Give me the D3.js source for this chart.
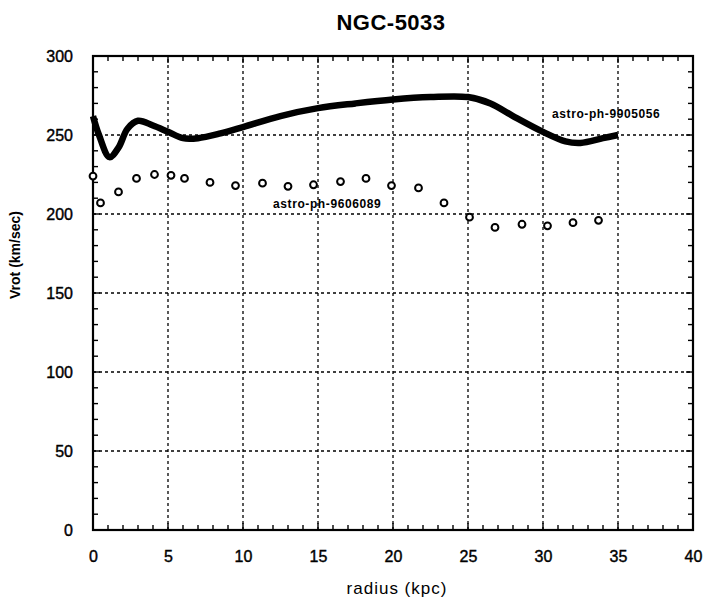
<!DOCTYPE html>
<html>
<head>
<meta charset="utf-8">
<script src="https://cdn.jsdelivr.net/npm/d3@7"></script>
<style>
  body { margin: 0; background: #fff; }
  svg { display: block; font-family: "Liberation Sans", Arial, sans-serif; }
</style>
</head>
<body>
<svg id="chart" width="704" height="603"></svg>
<script>
// 曲線データ (astro-ph-9905056)
var curveR = [0, 0.4, 1.1, 1.7, 2.3, 3.0, 4.0, 5.0, 6.0, 7.0, 8.5, 10, 12.5, 15, 17.5, 20, 22.5, 25, 26.5, 28, 30, 31.5, 32.5, 34, 35];
var curveV = [262, 250, 236, 242, 254, 259, 256, 252, 248, 248, 251, 255, 262, 267, 270, 272.5, 274, 274, 270, 262, 252, 246, 245, 248, 250];

// 点データ (astro-ph-9606089)
var pointR = [0, 0.5, 1.7, 2.9, 4.1, 5.2, 6.1, 7.8, 9.5, 11.3, 13.0, 14.7, 16.5, 18.2, 19.9, 21.7, 23.4, 25.1, 26.8, 28.6, 30.3, 32.0, 33.7];
var pointV = [224, 207, 214, 222.5, 225, 224.5, 222.5, 220, 218, 219.5, 217.5, 218.5, 220.5, 222.5, 218, 216.5, 207, 198, 191.5, 193.5, 192.5, 194.5, 196];

var xTicks = [0, 5, 10, 15, 20, 25, 30, 35, 40];
var yTicks = [0, 50, 100, 150, 200, 250, 300];

var margin = { left: 93, right: 11, top: 56, bottom: 73 };
var width = 704, height = 603;

var svg = d3.select("#chart");

var x = d3.scaleLinear().domain([0, 40]).range([margin.left, width - margin.right]);
var y = d3.scaleLinear().domain([0, 300]).range([height - margin.bottom, margin.top]);

var x0 = x(0), x1 = x(40), y0 = y(0), y1 = y(300);

// グリッド
svg.append("g").selectAll("line.gx")
  .data(xTicks.slice(1, -1)).enter().append("line")
  .attr("x1", d => x(d)).attr("x2", d => x(d))
  .attr("y1", y0).attr("y2", y1)
  .attr("stroke", "#000").attr("stroke-width", 1.3)
  .attr("stroke-dasharray", "3,3");
svg.append("g").selectAll("line.gy")
  .data(yTicks.slice(1, -1)).enter().append("line")
  .attr("x1", x0).attr("x2", x1)
  .attr("y1", d => y(d)).attr("y2", d => y(d))
  .attr("stroke", "#000").attr("stroke-width", 1.3)
  .attr("stroke-dasharray", "3,3");

// 内向きの目盛 (四辺)
var xMinor = d3.range(0, 41, 1);
var yMinor = d3.range(0, 301, 10);
var tk = svg.append("g").attr("stroke", "#000").attr("stroke-width", 1.4);
xMinor.forEach(function (d) {
  var len = d % 5 === 0 ? 7 : 5;
  tk.append("line").attr("x1", x(d)).attr("x2", x(d)).attr("y1", y0).attr("y2", y0 - len);
  tk.append("line").attr("x1", x(d)).attr("x2", x(d)).attr("y1", y1).attr("y2", y1 + len);
});
yMinor.forEach(function (d) {
  var len = d % 50 === 0 ? 7 : 5;
  tk.append("line").attr("x1", x0).attr("x2", x0 + len).attr("y1", y(d)).attr("y2", y(d));
  tk.append("line").attr("x1", x1).attr("x2", x1 - len).attr("y1", y(d)).attr("y2", y(d));
});

// 枠
svg.append("rect")
  .attr("x", x0).attr("y", y1)
  .attr("width", x1 - x0).attr("height", y0 - y1)
  .attr("fill", "none").attr("stroke", "#000").attr("stroke-width", 2.2);

// 軸ラベル
var xAxis = d3.axisBottom(x).tickValues(xTicks).tickSize(0).tickPadding(21);
svg.append("g").attr("transform", `translate(0,${y0})`).call(xAxis)
  .call(g => g.select(".domain").remove())
  .selectAll("text").attr("font-size", 16).attr("fill", "#000")
  .attr("stroke", "#000").attr("stroke-width", 0.4)
  .attr("font-family", "Liberation Sans, Arial, sans-serif");

var yAxis = d3.axisLeft(y).tickValues(yTicks).tickSize(0).tickPadding(20);
svg.append("g").attr("transform", `translate(${x0},0)`).call(yAxis)
  .call(g => g.select(".domain").remove())
  .selectAll("text").attr("font-size", 16).attr("fill", "#000")
  .attr("stroke", "#000").attr("stroke-width", 0.4)
  .attr("font-family", "Liberation Sans, Arial, sans-serif");

// 曲線
var line = d3.line()
  .x(d => x(d[0])).y(d => y(d[1]))
  .curve(d3.curveCatmullRom.alpha(0.5));
svg.append("path")
  .datum(d3.zip(curveR, curveV))
  .attr("d", line)
  .attr("fill", "none").attr("stroke", "#000")
  .attr("stroke-width", 6.5).attr("stroke-linejoin", "round");

// 点
svg.append("g").selectAll("circle")
  .data(d3.zip(pointR, pointV)).enter().append("circle")
  .attr("cx", d => x(d[0])).attr("cy", d => y(d[1]))
  .attr("r", 3.4)
  .attr("fill", "#fff").attr("stroke", "#000").attr("stroke-width", 2);

// 注記
svg.append("text").attr("x", x(12.0)).attr("y", y(203.8))
  .attr("font-size", 12).attr("font-weight", "bold").attr("letter-spacing", 0.6)
  .text("astro-ph-9606089");
svg.append("text").attr("x", x(30.6)).attr("y", y(261))
  .attr("font-size", 12).attr("font-weight", "bold").attr("letter-spacing", 0.6)
  .text("astro-ph-9905056");

// タイトル
svg.append("text").attr("x", 391).attr("y", 30)
  .attr("text-anchor", "middle").attr("font-size", 22).attr("font-weight", "bold")
  .attr("letter-spacing", 0.5)
  .text("NGC-5033");

svg.append("text").attr("x", 397).attr("y", 594)
  .attr("text-anchor", "middle").attr("font-size", 17).attr("letter-spacing", 1)
  .text("radius (kpc)");

svg.append("text")
  .attr("transform", "translate(20,255) rotate(-90)")
  .attr("text-anchor", "middle").attr("font-size", 14).attr("font-weight", "bold")
  .text("Vrot (km/sec)");
</script>
</body>
</html>
